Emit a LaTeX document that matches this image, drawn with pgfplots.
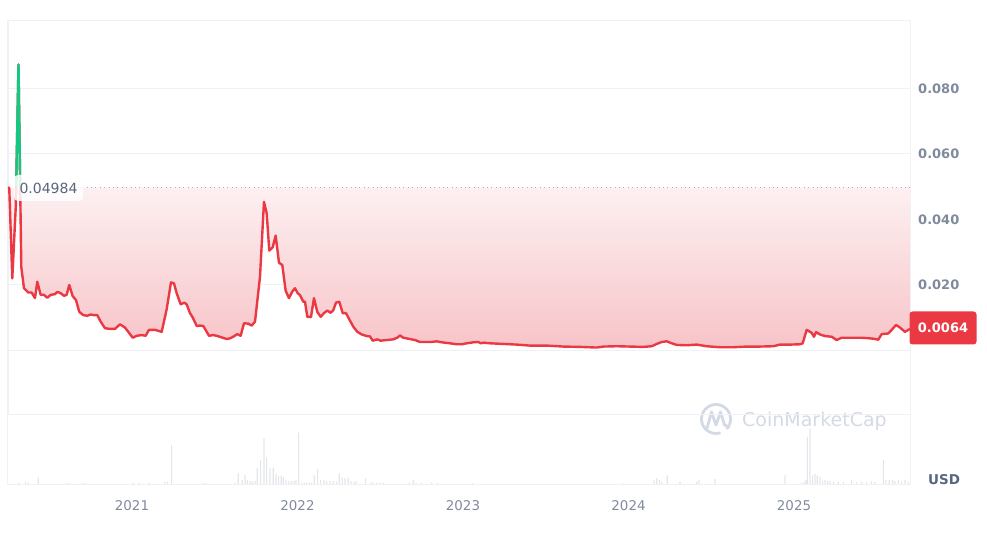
\documentclass[border=0pt]{standalone}
\usepackage{fontspec}
\setmainfont{DejaVu Sans}
\usepackage{pgfplots}
\pgfplotsset{compat=1.18}
\usepackage{pgfplotstable}
\definecolor{cmcred}{HTML}{EA3943}
\definecolor{cmcgreen}{HTML}{16C784}
\definecolor{gridc}{HTML}{EFF1F4}
\definecolor{lbl}{HTML}{808A9D}
\definecolor{dark}{HTML}{58667E}
\definecolor{vol}{HTML}{E3E6EB}
\definecolor{wm}{HTML}{D3DAE6}
\definecolor{shtop}{HTML}{FDF0F1}
\definecolor{shbot}{HTML}{F7C4C8}
\definecolor{dotc}{HTML}{A6AEBB}

% px = horizontal position in the 987 px picture; year = 2020 + (px+33.5)/165.5
\pgfplotstableread{
px price
8 0.0499
9.3 0.0495
12.3 0.0220
15.8 0.0440
18.5 0.0873
21.3 0.0255
24 0.0190
28.3 0.0177
31.7 0.0177
35 0.0160
37.3 0.0210
40.7 0.0170
44 0.0170
47.3 0.0161
50.7 0.0170
55 0.0172
57.3 0.0179
60.7 0.0175
64 0.0167
66.7 0.0170
69.3 0.0200
72.7 0.0166
76 0.0154
79.3 0.0118
83.3 0.0108
87.3 0.0106
90.7 0.0110
94 0.0108
97.3 0.0108
100.7 0.0088
105 0.0068
110 0.0066
115 0.0066
120 0.0080
125 0.0070
128.3 0.0057
132.7 0.0039
136.7 0.0045
141.7 0.0047
145.7 0.0045
149 0.0063
155 0.0063
161.7 0.0057
166.7 0.0126
171 0.0208
174 0.0205
176.7 0.0175
180.7 0.0141
184.3 0.0146
186.7 0.0141
190 0.0114
192.7 0.0101
196.7 0.0075
200 0.0076
203.3 0.0075
209 0.0045
213.3 0.0047
216.7 0.0045
221.7 0.0040
226.7 0.0035
230 0.0037
233.3 0.0042
237.3 0.0050
240.7 0.0045
244 0.0083
248.3 0.0082
251.7 0.0076
255 0.0088
260 0.0225
264 0.0454
266.7 0.0419
269.3 0.0305
272.7 0.0315
275.7 0.0351
279 0.0268
282.3 0.0261
285.7 0.0182
289 0.0160
292.3 0.0180
295 0.0190
297.7 0.0175
300 0.0169
303.3 0.0149
305 0.0149
307.3 0.0103
311 0.0102
314 0.0160
317.3 0.0118
320.7 0.0103
324 0.0114
327.3 0.0122
330.7 0.0115
333.3 0.0123
336 0.0146
339.3 0.0149
342.7 0.0114
346 0.0114
349.3 0.0095
353.3 0.0073
357.3 0.0057
361.7 0.0049
366.7 0.0044
370 0.0043
372.7 0.0030
377.3 0.0034
380.7 0.0030
386.7 0.0032
393.3 0.0034
397.3 0.0039
400 0.0046
403.3 0.0039
410 0.0035
415 0.0032
420 0.0026
425 0.0026
431.7 0.0026
436.7 0.0028
441.7 0.0025
450 0.0022
456.7 0.0019
461.7 0.0019
466.7 0.0022
473.3 0.0025
478.3 0.0026
480.7 0.0022
484 0.0024
490 0.0022
503.3 0.0020
516.7 0.0018
530 0.0015
546.7 0.0015
563.3 0.0012
580 0.0011
596.7 0.0009
603.3 0.0012
616.7 0.0013
630 0.0012
643.3 0.0011
651.7 0.0013
656.7 0.0020
661.7 0.0026
666.7 0.0028
671.7 0.0022
676.7 0.0017
686.7 0.0016
696.7 0.0018
706.7 0.0013
720 0.0010
733.3 0.0010
746.7 0.0012
760 0.0012
773.3 0.0013
780 0.0018
790 0.0018
800 0.0019
802.7 0.0022
806.7 0.0063
811.7 0.0054
814 0.0042
816 0.0056
820 0.0049
825 0.0044
831.7 0.0042
836.7 0.0032
841.7 0.0039
853.3 0.0039
860 0.0039
866.7 0.0038
873.3 0.0036
878.3 0.0033
881.7 0.0050
888.3 0.0052
891.7 0.0063
896 0.0078
900 0.0070
905 0.0057
910 0.0066
}\pricedata

\pgfplotstableread{
px price
16.16 0.04984
18.5 0.0873
20.2 0.04984
}\greendata

\pgfplotstableread{
px vol
19 1.3
25.7 2.7
28.3 1.3
38.3 6.3
67 1
69.7 1
83 1
85.7 1
133.3 1
139.3 1
149.3 1
165 2.3
167.7 2.3
171.7 39
203.3 1
206 1
235 1.3
238.3 10.7
242.3 4
245 9
247.3 4
250 3
252.3 2.7
255 3
257.3 15.7
260.7 24
264 45.7
266.7 26.7
270 15.7
273.3 16.3
276 10
278.7 8.3
281.3 8.3
283.3 6.7
286 4
288.7 3
291.3 3
294 3
296 4
298.7 51.3
301.7 1.3
304.3 1.3
306.7 1.3
309.3 1.3
311.7 1.3
314.3 8.7
317.7 15
320.7 4
324 4
326.7 3
330 3
333.3 3
336.7 2.3
339.3 10.7
342.3 6.3
345 6
348.3 6.3
351 3
354 1.7
356 3
365.7 5.7
371 1.3
373.3 1.3
376.7 1.3
380 1.3
383.3 1.3
409.3 1.3
413.3 4
416 1.3
421.7 1.3
431.7 1.3
437.7 1
472.7 1
622.7 1
654 4
656.7 5.7
659.3 4
662 2.3
667.3 8.7
680 2.7
696.7 2.3
699 4
715 5
785 8.7
801.7 1.3
804 2.3
806 4
807.3 47.3
810 55.7
812.7 8.7
815 10.3
817.3 8.7
820 7
822.7 3
825 4
827.7 3
830 3
833.3 2.3
838.3 2.3
843.3 2.3
851.7 4
856.7 2
861.7 2.3
866.7 2
871.7 3
875 2.3
883.3 24
886 4
889.3 4
892.7 4
895 3
898.3 4
901.7 3
905 4
908.3 2.3
}\voldata

\begin{document}
\begin{tikzpicture}[x=1pt,y=1pt]
\path[use as bounding box] (0,0) rectangle (987,535);

% watermark
\begin{scope}[wm, line width=2.8pt, line cap=round, line join=round]
\draw (716,116) ++(-40:14.5) arc(-40:285:14.5);
\draw (707,107) -- (711.5,123) -- (716,110) -- (720.5,123) -- (724.5,110) -- (729,108);
\end{scope}
\node[text=wm, font=\fontsize{19}{19}\selectfont, anchor=base west, inner sep=0pt] at (742,108) {CoinMarketCap};

% volume axis
\begin{axis}[at={(8pt,51pt)}, anchor=south west, scale only axis,
  width=902pt, height=69pt,
  xmin=2020.2508, xmax=2025.7009, ymin=0, ymax=69,
  axis line style={gridc, line width=1pt},
  tick style={draw=none}, ytick=\empty,
  xtick={2021,2022,2023,2024,2025},
  xticklabels={2021,2022,2023,2024,2025},
  xticklabel style={font=\fontsize{13.4}{14}\selectfont, text=lbl, inner sep=0pt, anchor=north, yshift=-16pt}]
\addplot[ybar, bar width=1.1pt, fill=vol, draw=none] table[x expr={2020+(\thisrow{px}+33.5)/165.5}, y=vol]{\voldata};
\end{axis}

% price axis
\begin{axis}[at={(8pt,120pt)}, anchor=south west, scale only axis,
  width=902pt, height=394pt,
  xmin=2020.2508, xmax=2025.7009, ymin=-0.019695, ymax=0.10061,
  axis line style={gridc, line width=1pt},
  tick style={draw=none}, xtick=\empty,
  ytick={-0.02,0,0.02,0.04,0.06,0.08},
  yticklabels={,,0.020,0.040,0.060,0.080},
  ymajorgrids, grid style={gridc, line width=1pt},
  yticklabel pos=right,
  yticklabel style={font=\fontsize{13}{14}\selectfont\bfseries, text=lbl, anchor=west, inner sep=0pt, xshift=8pt}]
\addplot[draw=none, top color=shtop, bottom color=shbot] table[x expr={2020+(\thisrow{px}+33.5)/165.5}, y expr={min(\thisrow{price},0.04984)}]{\pricedata} -- (axis cs:2025.7009,0.04984) -- (axis cs:2020.2508,0.04984) -- cycle;
\addplot[dotc, line width=1pt, dash pattern=on 1pt off 3.4pt] coordinates {(2020.30,0.04984) (2025.7009,0.04984)};
\addplot[cmcred, line width=2.4pt, line join=round] table[x expr={2020+(\thisrow{px}+33.5)/165.5}, y=price]{\pricedata};
\addplot[cmcgreen, line width=2.4pt, line join=round] table[x expr={2020+(\thisrow{px}+33.5)/165.5}, y=price]{\greendata};
\end{axis}

% labels
\node[fill=white, fill opacity=0.85, text opacity=1, rounded corners=4pt, text=dark,
  font=\fontsize{14}{14}\selectfont, minimum width=69pt, minimum height=26pt, inner sep=0pt] at (48.5,347) {0.04984};
\node[fill=cmcred, rounded corners=3pt, text=white, font=\fontsize{13}{13}\selectfont\bfseries,
  minimum width=67pt, minimum height=33pt, inner sep=0pt] at (943,207) {0.0064};
\node[text=dark, font=\fontsize{13.5}{13.5}\selectfont\bfseries, inner sep=0pt] at (944,55.5) {USD};
\end{tikzpicture}
\end{document}
